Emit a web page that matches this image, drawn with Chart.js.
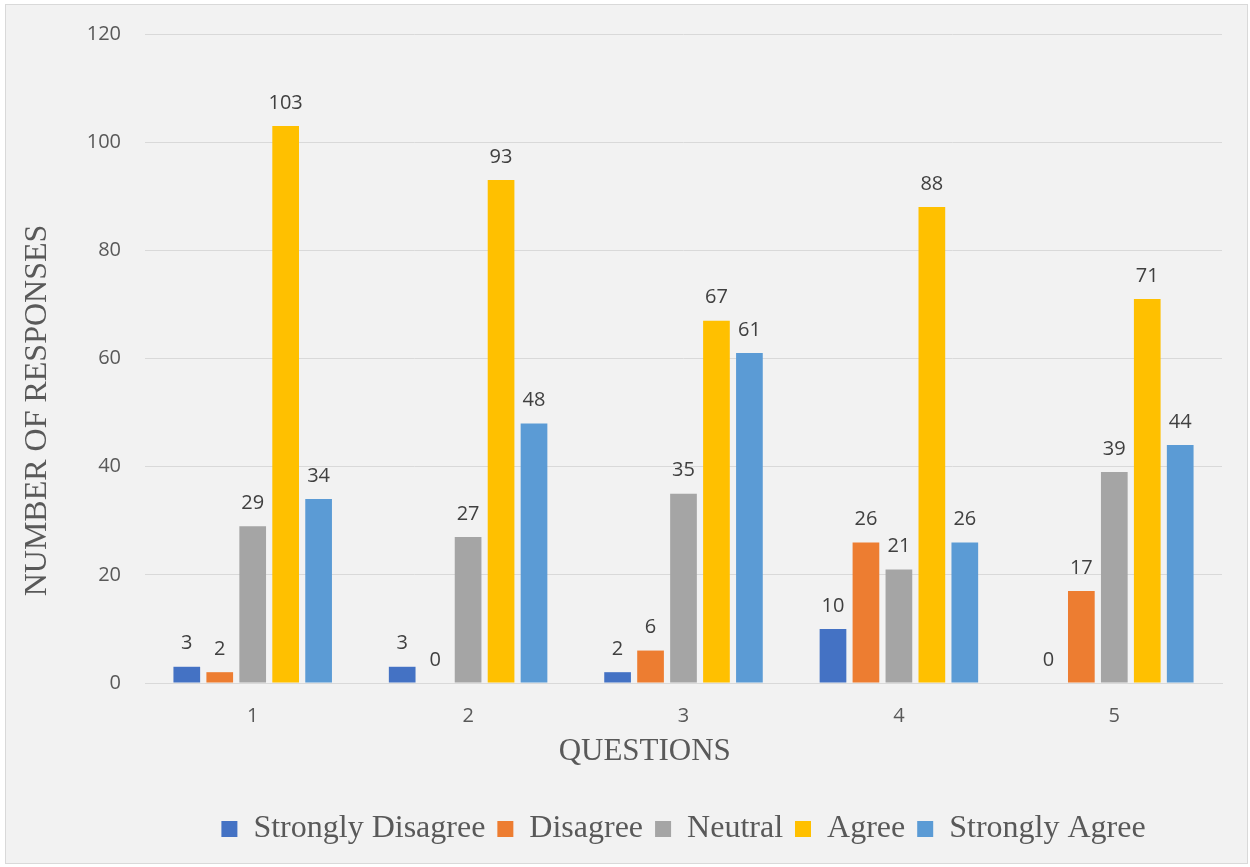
<!DOCTYPE html>
<html>
<head>
<meta charset="utf-8">
<script src="https://cdn.jsdelivr.net/npm/chart.js@4.4.1/dist/chart.umd.min.js"></script>
<style>
  body { margin: 0; background: #ffffff; }
  #box {
    position: absolute; left: 5px; top: 4px;
    width: 1241px; height: 858px;
    border: 1px solid #d9d9d9; background: #f2f2f2;
  }
</style>
</head>
<body>
<div id="box"><canvas id="chart" width="1241" height="858"></canvas></div>
<script>
// questions on the x axis
let questions = ["1", "2", "3", "4", "5"];

// responses per answer, one value per question
let stronglyDisagree = [3, 3, 2, 10, 0];
let disagree = [2, 0, 6, 26, 17];
let neutral = [29, 27, 35, 21, 39];
let agree = [103, 93, 67, 88, 71];
let stronglyAgree = [34, 48, 61, 26, 44];

let seriesNames = ["Strongly Disagree", "Disagree", "Neutral", "Agree", "Strongly Agree"];
let seriesData = [stronglyDisagree, disagree, neutral, agree, stronglyAgree];
let barColors = ["#4472C4", "#ED7D31", "#A5A5A5", "#FFC000", "#5B9BD5"];

let yTicks = [0, 20, 40, 60, 80, 100, 120];

// titles sit off-centre in the original, padded with spaces to match
const pad = (n) => "\u00a0".repeat(n);

// value labels above each bar
const valueLabels = {
  id: "valueLabels",
  afterDatasetsDraw(chart) {
    const ctx = chart.ctx;
    ctx.save();
    ctx.font = "20px 'Open Sans'";
    ctx.fillStyle = "#404040";
    ctx.textAlign = "center";
    ctx.textBaseline = "middle";
    chart.data.datasets.forEach((ds, i) => {
      chart.getDatasetMeta(i).data.forEach((bar, j) => {
        ctx.fillText(ds.data[j], bar.x, bar.y - 23);
      });
    });
    ctx.restore();
  },
};

new Chart("chart", {
  type: "bar",
  data: {
    labels: questions,
    datasets: seriesNames.map((name, i) => ({
      label: name,
      data: seriesData[i],
      backgroundColor: barColors[i],
      categoryPercentage: 0.765,
      barPercentage: 0.81,
    })),
  },
  options: {
    responsive: false,
    animation: false,
    layout: { padding: { left: 10, right: 25, top: 29, bottom: 8 } },
    plugins: {
      legend: {
        position: "bottom",
        fullSize: false,
        labels: {
          boxWidth: 16,
          boxHeight: 16,
          padding: 12,
          color: "#595959",
          font: { family: "'Liberation Serif'", size: 32 },
        },
      },
      tooltip: { enabled: false },
    },
    scales: {
      x: {
        grid: { display: false },
        border: { display: true, color: "#d9d9d9", width: 1 },
        ticks: { color: "#595959", padding: 13, font: { family: "'Open Sans'", size: 20 } },
        title: {
          display: true,
          text: "QUESTIONS" + pad(10),
          color: "#595959",
          padding: { top: 0, bottom: 31 },
          font: { family: "'Liberation Serif'", size: 31 },
        },
        afterFit(scale) { scale.height = 118; },
      },
      y: {
        min: 0,
        max: 120,
        afterBuildTicks(scale) { scale.ticks = yTicks.map((v) => ({ value: v })); },
        grid: { color: "#d9d9d9", lineWidth: 1, drawTicks: true, tickLength: 20, tickColor: "transparent" },
        border: { display: false },
        ticks: { color: "#595959", padding: 4, font: { family: "'Open Sans'", size: 20 } },
        title: {
          display: true,
          text: "NUMBER OF RESPONSES" + pad(13),
          color: "#595959",
          padding: { top: 2, bottom: 0 },
          font: { family: "'Liberation Serif'", size: 32 },
        },
        afterFit(scale) { scale.width = 129; },
      },
    },
  },
  plugins: [valueLabels],
});
</script>
</body>
</html>
